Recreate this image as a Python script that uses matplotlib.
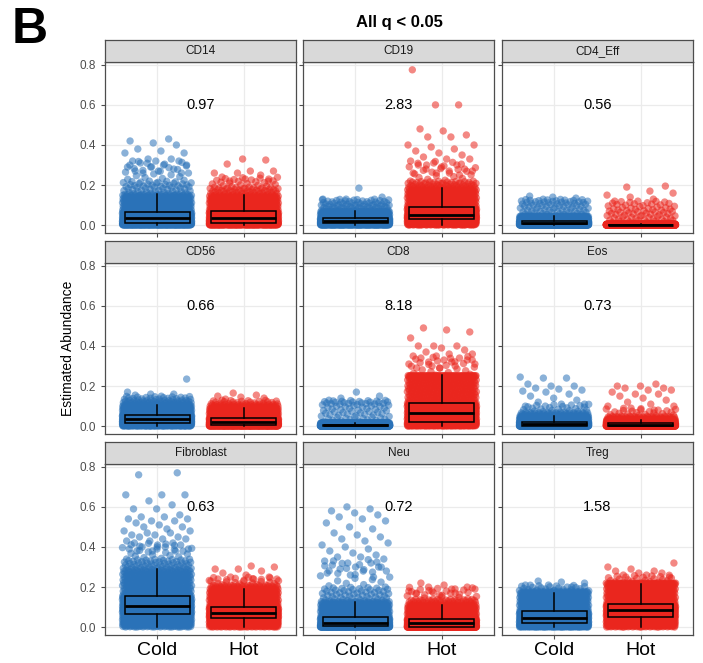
import numpy as np
import matplotlib
matplotlib.use("Agg")
import matplotlib.pyplot as plt

plt.rcParams['font.family'] = ['Liberation Sans', 'DejaVu Sans']

cells = ["CD14", "CD19", "CD4_Eff", "CD56", "CD8", "Eos", "Fibroblast", "Neu", "Treg"]
groups = ["Cold", "Hot"]
ratios = ["0.97", "2.83", "0.56", "0.66", "8.18", "0.73", "0.63", "0.72", "1.58"]

# box stats per cell: [low whisker, q1, median, q3, high whisker] for Cold / Hot
cold_box = [
    [0.0, 0.010, 0.035, 0.068, 0.154],
    [0.0, 0.010, 0.020, 0.035, 0.070],
    [0.0, 0.004, 0.010, 0.021, 0.046],
    [0.0, 0.017, 0.035, 0.058, 0.106],
    [0.0, 0.002, 0.004, 0.008, 0.018],
    [0.0, 0.003, 0.010, 0.023, 0.050],
    [0.0, 0.065, 0.106, 0.158, 0.290],
    [0.0, 0.005, 0.023, 0.051, 0.128],
    [0.0, 0.020, 0.048, 0.080, 0.170],
]
hot_box = [
    [0.0, 0.012, 0.037, 0.070, 0.150],
    [0.0, 0.030, 0.050, 0.091, 0.185],
    [0.0, 0.001, 0.002, 0.003, 0.006],
    [0.0, 0.007, 0.021, 0.041, 0.092],
    [0.0, 0.023, 0.068, 0.116, 0.253],
    [0.0, 0.002, 0.006, 0.015, 0.033],
    [0.0, 0.045, 0.071, 0.103, 0.190],
    [0.0, 0.003, 0.023, 0.043, 0.111],
    [0.0, 0.051, 0.084, 0.116, 0.217],
]

# top of the saturated cloud, and where its thinning fringe ends
cold_top = [0.22, 0.11, 0.11, 0.13, 0.11, 0.07, 0.34, 0.20, 0.18]
hot_top = [0.19, 0.22, 0.08, 0.11, 0.25, 0.05, 0.21, 0.14, 0.22]
cold_fringe = [0.32, 0.13, 0.13, 0.15, 0.13, 0.11, 0.42, 0.34, 0.21]
hot_fringe = [0.24, 0.32, 0.12, 0.13, 0.35, 0.09, 0.25, 0.20, 0.26]

# sparse high values above the cloud
cold_high = [
    [0.43, 0.42, 0.41, 0.40, 0.38, 0.37, 0.36, 0.36, 0.33, 0.33, 0.32, 0.32, 0.32,
     0.31, 0.30, 0.30, 0.29, 0.29, 0.28, 0.27, 0.27, 0.26, 0.26],
    [0.185, 0.14, 0.13, 0.13],
    [0.145, 0.14, 0.135],
    [0.235, 0.17, 0.16, 0.16, 0.155],
    [0.17, 0.15, 0.14],
    [0.245, 0.24, 0.24, 0.21, 0.20, 0.20, 0.19, 0.185, 0.18, 0.175, 0.17, 0.16,
     0.15, 0.14, 0.13, 0.12, 0.11, 0.11, 0.10],
    [0.77, 0.76, 0.66, 0.66, 0.66, 0.63, 0.61, 0.59, 0.59, 0.56, 0.55, 0.55, 0.54,
     0.54, 0.53, 0.53, 0.52, 0.51, 0.50, 0.50, 0.49, 0.48, 0.48, 0.47, 0.47, 0.46,
     0.46, 0.45, 0.45, 0.44, 0.44, 0.43, 0.43, 0.42, 0.42, 0.41, 0.41, 0.40, 0.40,
     0.39, 0.39, 0.38, 0.38, 0.38],
    [0.60, 0.59, 0.58, 0.57, 0.56, 0.55, 0.54, 0.53, 0.52, 0.50, 0.49, 0.47, 0.46,
     0.45, 0.44, 0.43, 0.42, 0.41, 0.40, 0.39, 0.38, 0.37, 0.36, 0.35, 0.35, 0.34,
     0.33, 0.32, 0.32, 0.31, 0.30, 0.30, 0.29, 0.28, 0.28, 0.27, 0.26, 0.25],
    [0.23, 0.225, 0.22, 0.21, 0.21, 0.20],
]
hot_high = [
    [0.33, 0.325, 0.305, 0.27, 0.27, 0.26, 0.26, 0.25, 0.24, 0.23, 0.22, 0.22],
    [0.775, 0.60, 0.60, 0.48, 0.47, 0.45, 0.44, 0.44, 0.40, 0.40, 0.39, 0.38, 0.37,
     0.36, 0.35, 0.34, 0.33, 0.33, 0.32, 0.31, 0.30, 0.30, 0.29, 0.28, 0.28, 0.27,
     0.27, 0.26, 0.26, 0.25],
    [0.195, 0.19, 0.17, 0.16, 0.15, 0.14, 0.13, 0.12, 0.12],
    [0.165, 0.155, 0.15, 0.145, 0.14, 0.135],
    [0.49, 0.48, 0.47, 0.44, 0.40, 0.40, 0.40, 0.39, 0.38, 0.37, 0.36, 0.36, 0.35,
     0.35, 0.34, 0.34, 0.33, 0.33, 0.32, 0.32, 0.31, 0.31, 0.30, 0.30, 0.29, 0.29],
    [0.21, 0.20, 0.20, 0.19, 0.19, 0.18, 0.18, 0.17, 0.16, 0.16, 0.15, 0.14, 0.13,
     0.12, 0.11, 0.10, 0.10, 0.09, 0.08],
    [0.305, 0.30, 0.29, 0.29, 0.28, 0.27, 0.26, 0.25, 0.25, 0.24, 0.24, 0.23],
    [0.22, 0.21, 0.20, 0.20, 0.19, 0.19, 0.18, 0.18, 0.17, 0.17, 0.16],
    [0.32, 0.30, 0.29, 0.28, 0.28, 0.27, 0.27, 0.26, 0.26, 0.25],
]

colors = {"Cold": "#2A72B8", "Hot": "#EA261E"}
N_CLOUD = 1500


def halton(n, base, start=1):
    # radical-inverse sequence, used for the horizontal jitter
    out = np.empty(n)
    for j in range(n):
        i = j + start
        f, r = 1.0, 0.0
        while i > 0:
            f /= base
            r += f * (i % base)
            i //= base
        out[j] = r
    return out


def cloud_values(box, top, fringe):
    # quantile curve through the box stats, the dense top and the fringe
    p_knots = [0.0, 0.25, 0.5, 0.75, 0.95, 0.985, 1.0]
    y_knots = [box[0], box[1], box[2], box[3], box[4], top, fringe]
    p = (np.arange(N_CLOUD) + 0.5) / N_CLOUD
    return np.interp(p, p_knots, y_knots)


W, H = 703, 663
fig = plt.figure(figsize=(W / 100, H / 100), dpi=100)

lefts = [105, 303, 502]
pw = 191
panel_tops = [62, 263, 464]
ph = 171
strip_h = 22

for k, cell in enumerate(cells):
    r, c = divmod(k, 3)
    x0 = lefts[c]
    y0 = panel_tops[r]
    ax = fig.add_axes([x0 / W, 1 - (y0 + ph) / H, pw / W, ph / H])
    sax = fig.add_axes([x0 / W, 1 - y0 / H, pw / W, strip_h / H])

    boxes = [cold_box[k], hot_box[k]]
    tops = [cold_top[k], hot_top[k]]
    fringes = [cold_fringe[k], hot_fringe[k]]
    highs = [cold_high[k], hot_high[k]]
    for g, grp in enumerate(groups):
        pos = g + 1
        cloud = cloud_values(boxes[g], tops[g], fringes[g])
        hi = np.array(highs[g])
        xc = pos + 0.8 * (halton(len(cloud), 2, start=7 * k + 3 * g + 1) - 0.5)
        xh = pos + 0.8 * (halton(len(hi), 3, start=5 * k + 11 * g + 2) - 0.5)
        ax.scatter(np.concatenate([xc, xh]), np.concatenate([cloud, hi]),
                   s=28, color=colors[grp], alpha=0.55, edgecolors='none',
                   zorder=2)
        b = boxes[g]
        stats = [dict(whislo=b[0], q1=b[1], med=b[2], q3=b[3], whishi=b[4])]
        ax.bxp(stats, positions=[pos], widths=0.75, showfliers=False,
               showcaps=False, patch_artist=True,
               boxprops=dict(facecolor=colors[grp], edgecolor='black', linewidth=1.1),
               medianprops=dict(color='black', linewidth=2.0),
               whiskerprops=dict(color='black', linewidth=1.1),
               zorder=3)

    ax.text(1.5, 0.6, ratios[k], ha='center', va='center', fontsize=10.5,
            color='black', zorder=4)

    ax.set_xlim(0.4, 2.6)
    ax.set_ylim(-0.039, 0.814)
    ax.set_yticks([0.0, 0.2, 0.4, 0.6, 0.8])
    ax.set_xticks([1, 2])
    ax.grid(True, color='#EBEBEB', linewidth=0.9, zorder=0)
    ax.set_axisbelow(True)
    for sp in ax.spines.values():
        sp.set_color('#4D4D4D')
        sp.set_linewidth(0.9)
    ax.tick_params(axis='both', length=3, width=0.8, color='#4D4D4D',
                   labelcolor='#4D4D4D', labelsize=8.5)
    if c == 0:
        ax.set_yticklabels(["0.0", "0.2", "0.4", "0.6", "0.8"])
    else:
        ax.set_yticklabels([])
    if r == 2:
        ax.set_xticklabels(groups, fontsize=14, color='black')
        ax.tick_params(axis='x', pad=2)
    else:
        ax.set_xticklabels([])

    sax.set_facecolor('#D9D9D9')
    sax.set_xticks([])
    sax.set_yticks([])
    for sp in sax.spines.values():
        sp.set_color('#4D4D4D')
        sp.set_linewidth(0.9)
    sax.text(0.5, 0.5, cell, ha='center', va='center', fontsize=8.5,
             color='#1A1A1A', transform=sax.transAxes)

fig.text(68 / W, 1 - 348 / H, "Estimated Abundance", rotation=90,
         ha='center', va='center', fontsize=10, color='black')
fig.text(399 / W, 1 - 22 / H, "All q < 0.05", ha='center', va='center',
         fontsize=12, fontweight='bold', color='black')
fig.text(12 / W, 1 - 30 / H, "B", ha='left', va='center', fontsize=36,
         fontweight='bold', color='black')

fig.savefig("out.png", dpi=100)
